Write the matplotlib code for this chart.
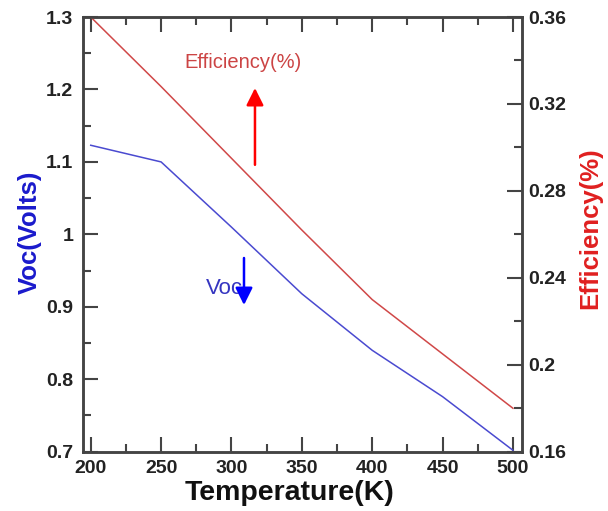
import matplotlib
matplotlib.use("Agg")
import matplotlib.pyplot as plt
from matplotlib.ticker import MultipleLocator

plt.rcParams["font.family"] = ["Liberation Sans", "DejaVu Sans"]

# data
temperature = [200, 250, 300, 350, 400, 450, 500]
voc = [1.123, 1.100, 1.010, 0.918, 0.840, 0.776, 0.702]
efficiency = [0.360, 0.328, 0.295, 0.262, 0.230, 0.205, 0.180]

voc_ticks = [0.7, 0.8, 0.9, 1.0, 1.1, 1.2, 1.3]
voc_tick_labels = ["0.7", "0.8", "0.9", "1", "1.1", "1.2", "1.3"]
eff_ticks = [0.16, 0.2, 0.24, 0.28, 0.32, 0.36]
eff_tick_labels = ["0.16", "0.2", "0.24", "0.28", "0.32", "0.36"]
temp_ticks = [200, 250, 300, 350, 400, 450, 500]

fig = plt.figure(figsize=(6.08, 5.11), dpi=100)
ax = fig.add_axes([0.1365, 0.116, 0.7215, 0.8507])
ax2 = ax.twinx()

ax.plot(temperature, voc, color="#4a4ad0", lw=1.1)
ax2.plot(temperature, efficiency, color="#d04848", lw=1.1)

ax.set_xlim(194.5, 506.2)
ax.set_ylim(0.7, 1.3)
ax2.set_ylim(0.16, 0.36)

ax.set_xticks(temp_ticks)
ax.set_xticklabels([str(t) for t in temp_ticks])
ax.xaxis.set_minor_locator(MultipleLocator(25))
ax.set_yticks(voc_ticks)
ax.set_yticklabels(voc_tick_labels)
ax.yaxis.set_minor_locator(MultipleLocator(0.05))
ax2.set_yticks(eff_ticks)
ax2.set_yticklabels(eff_tick_labels)
ax2.yaxis.set_minor_locator(MultipleLocator(0.02))

spine_col = "#444444"
for a in (ax, ax2):
    for s in a.spines.values():
        s.set_color(spine_col)
        s.set_linewidth(1.8)

ax.tick_params(axis="x", which="both", direction="in", top=True, bottom=True,
               color=spine_col, width=1.5)
ax.tick_params(axis="x", which="major", length=11, pad=6)
ax.tick_params(axis="x", which="minor", length=5.5)
ax.tick_params(axis="y", which="both", direction="in", left=True, right=False,
               color=spine_col, width=1.5)
ax.tick_params(axis="y", which="major", length=11, pad=7)
ax.tick_params(axis="y", which="minor", length=5.5)
ax2.tick_params(axis="y", which="both", direction="in", right=True,
                color=spine_col, width=1.5)
ax2.tick_params(axis="y", which="major", length=11, pad=5)
ax2.tick_params(axis="y", which="minor", length=5.5)

for lab in ax.get_xticklabels() + ax.get_yticklabels() + ax2.get_yticklabels():
    lab.set_fontsize(14)
    lab.set_fontweight("bold")
    lab.set_color("#222222")

ax.set_xlabel("Temperature(K)", fontsize=20.5, fontweight="bold", color="#111111")
ax.xaxis.set_label_coords(0.47, -0.065)
ax.set_ylabel("Voc(Volts)", fontsize=18.5, fontweight="bold", color="#1a1acc")
ax.yaxis.set_label_coords(-0.094, 0.505)
ax2.set_ylabel("Efficiency(%)", fontsize=18.5, fontweight="bold", color="#e02020")
ax2.yaxis.set_label_coords(1.128, 0.515)

# annotations
ax.text(308.2, 1.237, "Efficiency(%)", color="#cc4444", fontsize=14.5,
        ha="center", va="center")
ax.annotate("", xy=(316.7, 1.202), xytext=(316.7, 1.096),
            arrowprops=dict(arrowstyle="-|>", color="red", lw=1.8,
                            mutation_scale=26, shrinkA=0, shrinkB=0))
ax.text(294.7, 0.925, "Voc", color="#3535c0", fontsize=16,
        ha="center", va="center")
ax.annotate("", xy=(308.9, 0.9025), xytext=(308.9, 0.9674),
            arrowprops=dict(arrowstyle="-|>", color="blue", lw=1.8,
                            mutation_scale=26, shrinkA=0, shrinkB=0))

fig.savefig("out.png", dpi=100)
